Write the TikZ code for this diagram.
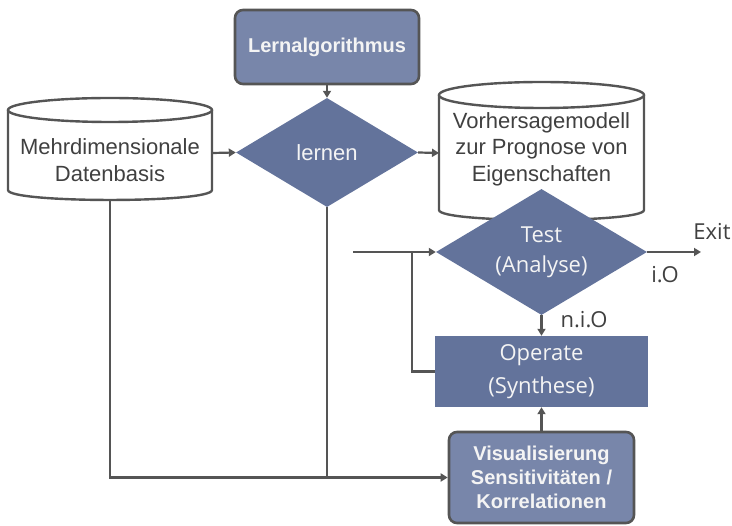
\documentclass[tikz,border=0pt]{standalone}
\usepackage{fontspec}
\setmainfont{Liberation Sans}
\newfontfamily\osans{Open Sans}
\usetikzlibrary{shapes.geometric,arrows.meta}
\definecolor{dia}{HTML}{63739B}
\definecolor{boxf}{HTML}{7886AA}
\definecolor{ln}{HTML}{555555}
\definecolor{txt}{HTML}{404040}
\definecolor{wtxt}{HTML}{F4F4F4}
\begin{document}
\begin{tikzpicture}[x=1pt,y=-1pt,
  conn/.style={draw=ln, line width=2.2pt},
  arr/.style={conn, -{Triangle[length=7pt,width=8pt]}},
  cyl/.style={draw=ln, line width=2.4pt, fill=white},
  cyltext/.style={font=\fontsize{22}{26.5}\selectfont, text=txt, align=center, inner sep=0pt},
  rbox/.style={draw=ln, line width=2.6pt, fill=boxf, rounded corners=8pt, text=wtxt,
     font=\bfseries\fontsize{20}{24}\selectfont, align=center, inner sep=0pt},
  dbox/.style={diamond, fill=dia, aspect=1.7, inner sep=0pt, text=wtxt, align=center},
  obox/.style={fill=dia, inner sep=0pt, text=wtxt, align=center,
     font=\osans\fontsize{22}{33}\selectfont},
  lab/.style={text=txt, font=\osans\fontsize{22}{26}\selectfont, inner sep=0pt}
]
\useasboundingbox (0,0) rectangle (732,526);

% cylinders
\path[cyl] (8,110) -- (8,190) .. controls (8,203.3) and (212,203.3) .. (212,190) -- (212,110);
\path[cyl] (110,110) ellipse [x radius=102pt, y radius=12pt];
\node[cyltext] (db) at (110,160) {Mehrdimensionale\\Datenbasis};
\coordinate (dbE) at (212,153);
\coordinate (dbS) at (110,200);

\path[cyl] (439,95) -- (439,210) .. controls (439,223.3) and (644,223.3) .. (644,210) -- (644,95);
\path[cyl] (541.5,95) ellipse [x radius=102.5pt, y radius=13pt];
\node[cyltext] (vm) at (541.5,149) {Vorhersagemodell\\zur Prognose von\\Eigenschaften};
\coordinate (vmW) at (439,153);

% boxes
\node[rbox, minimum width=184pt, minimum height=74pt] (alg) at (327,47) {Lernalgorithmus};
\node[dbox, minimum width=182pt, minimum height=109pt,
  font=\fontsize{22}{26}\selectfont] (lern) at (327,152.5) {lernen};
\node[dbox, minimum width=211pt, minimum height=126pt,
  font=\osans\fontsize{22}{30}\selectfont] (test) at (541.5,252) {Test\\(Analyse)};
\node[obox, minimum width=213pt, minimum height=71pt] (op) at (541.5,371.5) {Operate\\(Synthese)};
\node[rbox, minimum width=185pt, minimum height=91pt] (vis) at (541.5,477.5)
  {Visualisierung\\Sensitivitäten /\\Korrelationen};

% labels
\node[lab] (exitl) at (712,232) {Exit};
\node[lab] (iol) at (665,275) {i.O};
\node[lab] (niol) at (584,320) {n.i.O};

% connectors
\coordinate (inp) at (353,252);
\coordinate (lp) at (412,252);
\coordinate (exitp) at (701,252);
\draw[arr] (alg.south) -- (lern.north);
\draw[arr] (dbE) -- (lern.west);
\draw[arr] (lern.east) -- (vmW);
\draw[arr] (inp) -- (test.west);
\draw[conn] (op.west) -| (lp);
\draw[arr] (test.east) -- (exitp);
\draw[arr] (test.south) -- (op.north);
\draw[arr] (vis.north) -- (op.south);
\draw[arr] (dbS) |- (vis.west);
\draw[conn] (lern.south) -- (lern.south |- vis.west);
\end{tikzpicture}
\end{document}
